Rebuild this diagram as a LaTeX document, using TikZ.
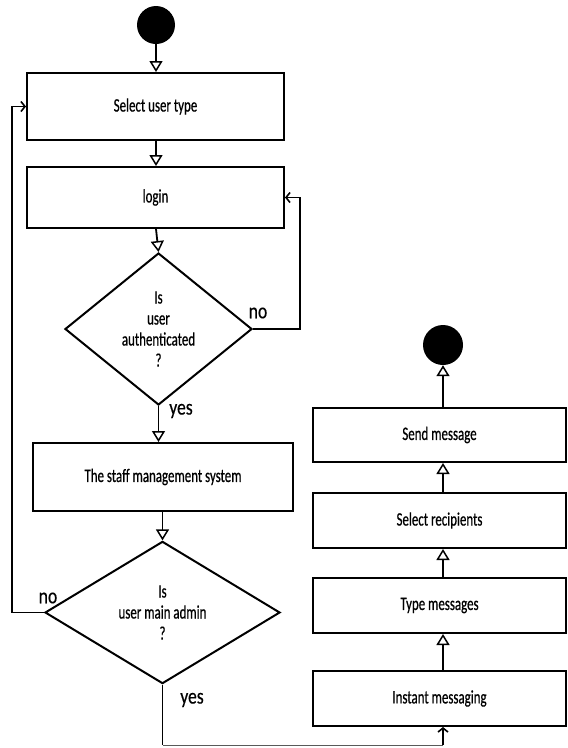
\documentclass[tikz,border=0pt]{standalone}
\usepackage{fontspec}
\newfontfamily\cf[FakeStretch=0.68,FakeBold=0.6]{Carlito}
\newfontfamily\cl[FakeStretch=0.8,FakeBold=0.4]{Carlito}
\usetikzlibrary{shapes.geometric,arrows.meta}
\begin{document}
\begin{tikzpicture}[x=1pt,y=-1pt,
  every node/.style={font=\cf\fontsize{19}{21}\selectfont},
  actbox/.style={draw,line width=2pt,inner sep=0pt},
  decide/.style={draw,diamond,line width=2pt,inner sep=0pt,align=center},
  blob/.style={circle,fill=black,inner sep=0pt},
  flow/.style={line width=1.8pt,-{Triangle[open,width=13pt,length=11pt,line width=1.5pt]}},
  back/.style={line width=1.8pt,-{Straight Barb[length=4pt,width=10pt,line width=1.6pt]}},
  thin/.style={line width=1pt,draw=black!65},
  lbl/.style={font=\cl\fontsize{22}{24}\selectfont,inner sep=0pt}]
\useasboundingbox (0,0) rectangle (568,748);
% left column
\node[blob,minimum size=38pt] (start) at (156,25) {};
\node[actbox,minimum width=257pt,minimum height=67pt] (sel) at (155.5,106.5) {Select user type};
\node[actbox,minimum width=257pt,minimum height=61pt] (login) at (155.5,197.5) {login};
\node[decide,minimum width=187pt,minimum height=152pt] (d1) at (158.5,329) {Is\\user\\authenticated\\?};
\node[actbox,minimum width=260pt,minimum height=68pt] (staff) at (163,477) {The staff management system};
\node[decide,minimum width=235pt,minimum height=121pt] (d2) at (162.5,612.5) {Is\\user main admin\\?};
% right column
\node[blob,minimum size=40pt] (end) at (443,345) {};
\node[actbox,minimum width=253pt,minimum height=54pt] (send) at (439.5,435) {Send message};
\node[actbox,minimum width=253pt,minimum height=55pt] (recip) at (439.5,520.5) {Select recipients};
\node[actbox,minimum width=253pt,minimum height=55pt] (type) at (439.5,605.5) {Type messages};
\node[actbox,minimum width=253pt,minimum height=55pt] (inst) at (439.5,698.5) {Instant messaging};
% labels
\node[lbl] (no1) at (258,313) {no};
\node[lbl] (yes1) at (181,411) {yes};
\node[lbl] (no2) at (48,598) {no};
\node[lbl] (yes2) at (192,700) {yes};
% helper coordinates
\coordinate (r1) at (300,329);
\coordinate (l1) at (12,612.5);
\coordinate (b1) at (162.5,745);
\coordinate (b2) at (443,745);
% main flow
\draw[flow] (start) -- (start |- sel.north);
\draw[flow] (start |- sel.south) -- (start |- login.north);
\draw[flow] (start |- login.south) -- (d1.north);
\draw[flow] (d1.south) -- (d1.south |- staff.north);
\draw[flow] (d2.north |- staff.south) -- (d2.north);
% loops
\draw[back] (d1.east) -- (r1) |- (login.east);
\draw[back] (d2.west) -- (l1) |- (sel.west);
% yes path to instant messaging
\draw[line width=1.8pt] (d2.south) -- (b1);
\draw[thin] (b1) -- (b2);
\draw[back] (b2) -- (b2 |- inst.south);
% right column flow
\draw[flow] (b2 |- inst.north) -- (b2 |- type.south);
\draw[flow] (b2 |- type.north) -- (b2 |- recip.south);
\draw[flow] (b2 |- recip.north) -- (b2 |- send.south);
\draw[flow] (b2 |- send.north) -- (end);
\end{tikzpicture}
\end{document}
